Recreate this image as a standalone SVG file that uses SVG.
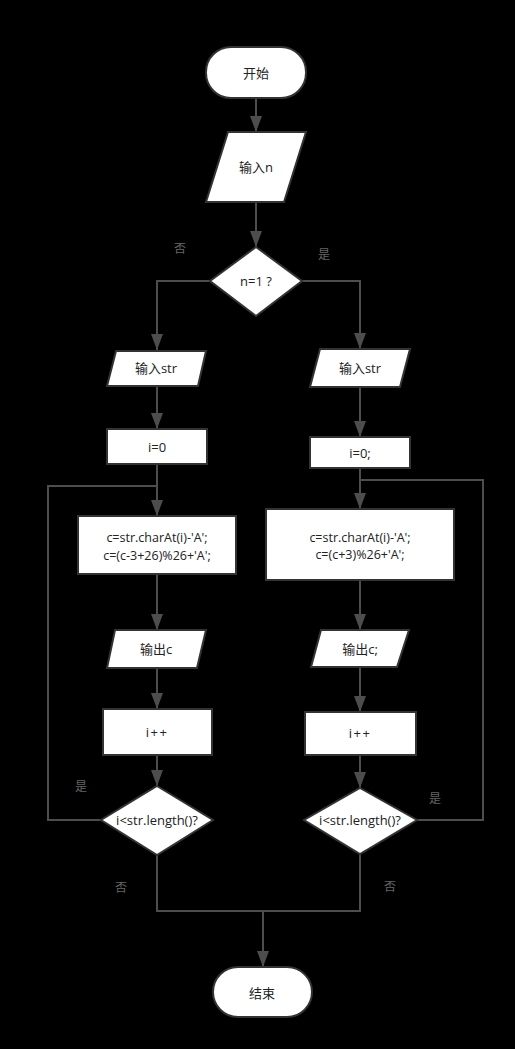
<svg xmlns="http://www.w3.org/2000/svg" width="515" height="1049" viewBox="0 0 515 1049">
<style>
.n{fill:#fff;stroke:#333;stroke-width:2}
.t{font-family:"Open Sans","Noto Sans CJK SC",sans-serif;font-size:13px;fill:#222;text-anchor:middle;dominant-baseline:central}
.s{font-size:12.5px}
.c{fill:none;stroke:#4d4d4d;stroke-width:2}
.l{font-family:"Noto Sans CJK SC",sans-serif;font-size:12px;fill:#666;text-anchor:middle;dominant-baseline:central}
</style>
<defs>
<marker id="a" viewBox="0 0 16 12" refX="16" refY="6" markerWidth="16" markerHeight="12" markerUnits="userSpaceOnUse" orient="auto">
<path d="M0,0 L16,6 L0,12 z" fill="#4d4d4d"/>
</marker>
</defs>
<rect width="515" height="1049" fill="#000"/>
<g id="connectors">
<path class="c" d="M256,98 V132" marker-end="url(#a)"/>
<path class="c" d="M256,202 V247" marker-end="url(#a)"/>
<path class="c" d="M210,281 H157 V350" marker-end="url(#a)"/>
<path class="c" d="M302,281 H360 V349" marker-end="url(#a)"/>
<path class="c" d="M157,386 V429" marker-end="url(#a)"/>
<path class="c" d="M157,464 V516" marker-end="url(#a)"/>
<path class="c" d="M157,574 V630" marker-end="url(#a)"/>
<path class="c" d="M157,668 V709" marker-end="url(#a)"/>
<path class="c" d="M157,755 V786" marker-end="url(#a)"/>
<path class="c" d="M101,820 H48 V486 H157"/>
<path class="c" d="M360,387 V437" marker-end="url(#a)"/>
<path class="c" d="M360,468 V509" marker-end="url(#a)"/>
<path class="c" d="M360,580 V630" marker-end="url(#a)"/>
<path class="c" d="M360,667 V712" marker-end="url(#a)"/>
<path class="c" d="M360,755 V788" marker-end="url(#a)"/>
<path class="c" d="M417,820 H483 V480 H360"/>
<path class="c" d="M157,855 V911 H360 V854"/>
<path class="c" d="M263,911 V967" marker-end="url(#a)"/>
<text class="l" x="180" y="247">否</text>
<text class="l" x="324" y="253">是</text>
<text class="l" x="81" y="785">是</text>
<text class="l" x="121" y="886">否</text>
<text class="l" x="435" y="797">是</text>
<text class="l" x="390" y="885">否</text>
</g>
<g id="start"><rect class="n" x="206" y="47" width="100" height="51" rx="25"/><text class="t" x="256" y="73">开始</text></g>
<g id="inputN"><path class="n" d="M228,132 H306 L284,202 H206 Z"/><text class="t" x="256" y="167">输入n</text></g>
<g id="cond"><path class="n" d="M256,247 L302,281 L256,316 L210,281 Z"/><text class="t" x="256" y="281">n=1 ?</text></g>
<g id="inL"><path class="n" d="M116,351 H206 L198,386 H107 Z"/><text class="t" x="156" y="368">输入str</text></g>
<g id="i0L"><rect class="n" x="107" y="429" width="100" height="35"/><text class="t" x="157" y="447">i=0</text></g>
<g id="cL"><rect class="n" x="78" y="516" width="158" height="58"/><text class="t s" x="157" y="537">c=str.charAt(i)-'A';</text><text class="t s" x="157" y="555">c=(c-3+26)%26+'A';</text></g>
<g id="outL"><path class="n" d="M115,630 H206 L197,668 H107 Z"/><text class="t" x="156" y="649">输出c</text></g>
<g id="incL"><rect class="n" x="103" y="709" width="109" height="46"/><text class="t" x="157" y="732" letter-spacing="1.5">i++</text></g>
<g id="loopL"><path class="n" d="M157,786 L213,820 L157,855 L101,820 Z"/><text class="t" x="157" y="820">i&lt;str.length()?</text></g>
<g id="inR"><path class="n" d="M320,349 H410 L400,387 H310 Z"/><text class="t" x="360" y="368">输入str</text></g>
<g id="i0R"><rect class="n" x="310" y="437" width="100" height="31"/><text class="t" x="360" y="453">i=0;</text></g>
<g id="cR"><rect class="n" x="266" y="509" width="188" height="71"/><text class="t s" x="360" y="537">c=str.charAt(i)-'A';</text><text class="t s" x="360" y="554">c=(c+3)%26+'A';</text></g>
<g id="outR"><path class="n" d="M321,630 H409 L397,667 H311 Z"/><text class="t" x="360" y="649">输出c;</text></g>
<g id="incR"><rect class="n" x="305" y="712" width="111" height="43"/><text class="t" x="360" y="733" letter-spacing="1.5">i++</text></g>
<g id="loopR"><path class="n" d="M360,788 L417,820 L360,854 L304,820 Z"/><text class="t" x="360" y="820">i&lt;str.length()?</text></g>
<g id="end"><rect class="n" x="213" y="967" width="99" height="50" rx="25"/><text class="t" x="262" y="993">结束</text></g>
</svg>
